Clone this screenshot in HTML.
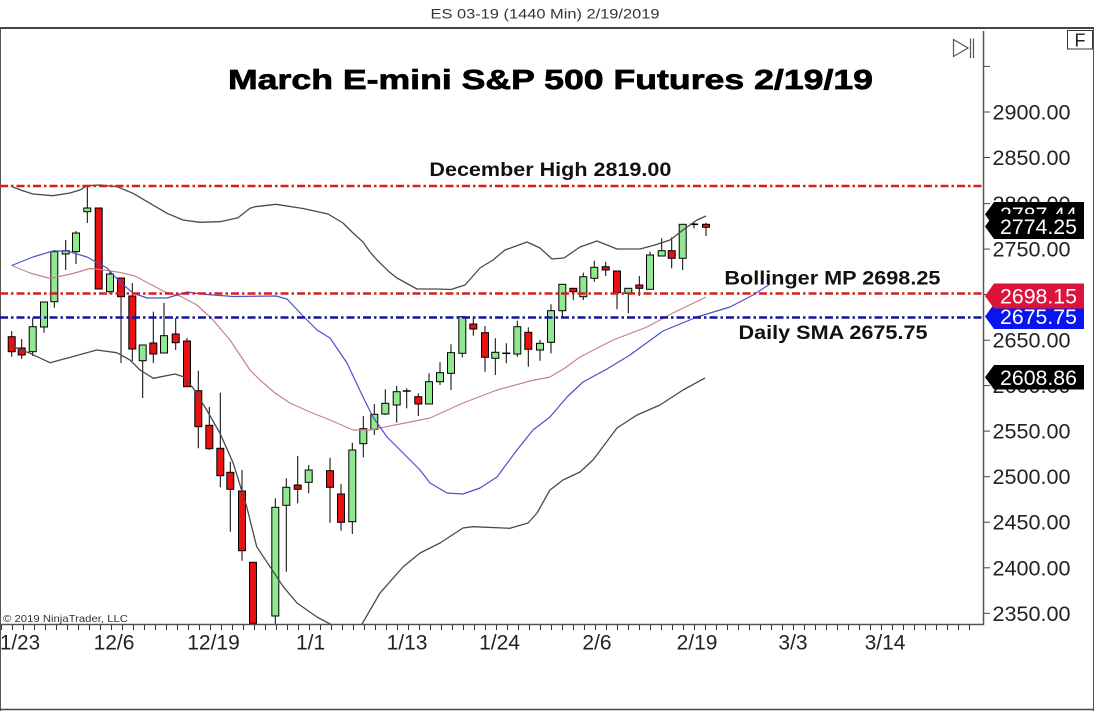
<!DOCTYPE html>
<html>
<head>
<meta charset="utf-8">
<style>
  html,body{margin:0;padding:0;background:#fff;}
  svg{display:block;}
  text{font-family:"Liberation Sans",Arial,sans-serif;}
</style>
</head>
<body>
<svg width="1094" height="711" viewBox="0 0 1094 711" xmlns="http://www.w3.org/2000/svg">
  <defs>
    <clipPath id="plot"><rect x="0" y="29" width="983" height="595"/></clipPath>
    <pattern id="tk" x="12" y="0" width="11" height="711" patternUnits="userSpaceOnUse">
      <rect x="0" y="0" width="1" height="711" fill="#333"/>
    </pattern>
  </defs>

  <rect x="0" y="0" width="1094" height="711" fill="#fff"/>

  <!-- header -->
  <text x="430.5" y="18.5" font-size="13.5" fill="#333" textLength="229" lengthAdjust="spacingAndGlyphs">ES 03-19 (1440 Min)  2/19/2019</text>

  <!-- frame -->
  <line x1="0" y1="28" x2="1094" y2="28" stroke="#444" stroke-width="2"/>
  <line x1="0.5" y1="28" x2="0.5" y2="711" stroke="#555" stroke-width="1"/>
  <line x1="1093.5" y1="28" x2="1093.5" y2="711" stroke="#555" stroke-width="1"/>
  <line x1="0" y1="709.5" x2="1094" y2="709.5" stroke="#444" stroke-width="1.5"/>

  <!-- plot content -->
  <g clip-path="url(#plot)">
    <!-- candles -->
    <g stroke="#000" stroke-width="1">
      <line x1="11.7" y1="331" x2="11.7" y2="356.7"/><rect x="8.2" y="336.7" width="7" height="15" fill="#e81010"/>
      <line x1="21.7" y1="339" x2="21.7" y2="359"/><rect x="18.2" y="348" width="7" height="7" fill="#e81010"/>
      <line x1="32.7" y1="317.7" x2="32.7" y2="356"/><rect x="29.2" y="326.7" width="7" height="25" fill="#90e890"/>
      <line x1="44" y1="302" x2="44" y2="332.7"/><rect x="40.5" y="302" width="7" height="25" fill="#90e890"/>
      <line x1="54.3" y1="250" x2="54.3" y2="307.7"/><rect x="50.8" y="251.7" width="7" height="50" fill="#90e890"/>
      <line x1="65.7" y1="240" x2="65.7" y2="270"/><rect x="62.2" y="250.7" width="7" height="3.3" fill="#90e890"/>
      <line x1="76" y1="231" x2="76" y2="264"/><rect x="72.5" y="233" width="7" height="18.7" fill="#90e890"/>
      <line x1="87.3" y1="186" x2="87.3" y2="223"/><rect x="83.8" y="208" width="7" height="3.7" fill="#90e890"/>
      <line x1="98.7" y1="208" x2="98.7" y2="289"/><rect x="95.2" y="208" width="7" height="81" fill="#e81010"/>
      <line x1="110" y1="271.7" x2="110" y2="294"/><rect x="106.5" y="274" width="7" height="17.7" fill="#90e890"/>
      <line x1="121" y1="278" x2="121" y2="363"/><rect x="117.5" y="278" width="7" height="18.7" fill="#e81010"/>
      <line x1="132.3" y1="283" x2="132.3" y2="361"/><rect x="128.8" y="296" width="7" height="53" fill="#e81010"/>
      <line x1="142.7" y1="345" x2="142.7" y2="398"/><rect x="139.2" y="345" width="7" height="15.7" fill="#90e890"/>
      <line x1="153.3" y1="311.7" x2="153.3" y2="363"/><rect x="149.8" y="343" width="7" height="11" fill="#e81010"/>
      <line x1="164" y1="303" x2="164" y2="353"/><rect x="160.5" y="335.7" width="7" height="17.3" fill="#90e890"/>
      <line x1="175.7" y1="318" x2="175.7" y2="350"/><rect x="172.2" y="334" width="7" height="8.7" fill="#e81010"/>
      <line x1="187" y1="338" x2="187" y2="387"/><rect x="183.5" y="341" width="7" height="45.7" fill="#e81010"/>
      <line x1="198.3" y1="370.7" x2="198.3" y2="448.3"/><rect x="194.8" y="390.7" width="7" height="36" fill="#e81010"/>
      <line x1="209.3" y1="407" x2="209.3" y2="450"/><rect x="205.8" y="425.3" width="7" height="23.4" fill="#e81010"/>
      <line x1="220.3" y1="392.7" x2="220.3" y2="487.3"/><rect x="216.8" y="448.3" width="7" height="27.4" fill="#e81010"/>
      <line x1="230.3" y1="461.7" x2="230.3" y2="531.7"/><rect x="226.8" y="472.3" width="7" height="17" fill="#e81010"/>
      <line x1="242" y1="470" x2="242" y2="560.7"/><rect x="238.5" y="491" width="7" height="59.7" fill="#e81010"/>
      <line x1="253" y1="562" x2="253" y2="624"/><rect x="249.5" y="562.3" width="7" height="61" fill="#e81010"/>
      <line x1="275.3" y1="498.3" x2="275.3" y2="624"/><rect x="271.8" y="507.3" width="7" height="108.7" fill="#90e890"/>
      <line x1="286.3" y1="478.3" x2="286.3" y2="571.7"/><rect x="282.8" y="487.3" width="7" height="18" fill="#90e890"/>
      <line x1="297.7" y1="456" x2="297.7" y2="503.3"/><rect x="294.2" y="485" width="7" height="4.3" fill="#c01010"/>
      <line x1="308.7" y1="465" x2="308.7" y2="493.3"/><rect x="305.2" y="470" width="7" height="12.3" fill="#90e890"/>
      <line x1="330" y1="457.7" x2="330" y2="522.7"/><rect x="326.5" y="470.7" width="7" height="16.6" fill="#e81010"/>
      <line x1="341" y1="484" x2="341" y2="530.7"/><rect x="337.5" y="494" width="7" height="28.3" fill="#e81010"/>
      <line x1="352.3" y1="442.7" x2="352.3" y2="534"/><rect x="348.8" y="450" width="7" height="71.7" fill="#90e890"/>
      <line x1="363.3" y1="416" x2="363.3" y2="457.3"/><rect x="359.8" y="428.7" width="7" height="15" fill="#90e890"/>
      <line x1="374.3" y1="404" x2="374.3" y2="435"/><rect x="370.8" y="414.3" width="7" height="15" fill="#90e890"/>
      <line x1="385.3" y1="389.3" x2="385.3" y2="415"/><rect x="381.8" y="403.3" width="7" height="10.7" fill="#90e890"/>
      <line x1="396.7" y1="386" x2="396.7" y2="422.7"/><rect x="393.2" y="391.7" width="7" height="13.3" fill="#90e890"/>
      <line x1="406.7" y1="388.3" x2="406.7" y2="408.3"/><line x1="402.7" y1="391" x2="410.7" y2="391" stroke-width="1.5"/>
      <line x1="418.3" y1="393.3" x2="418.3" y2="416"/><rect x="414.8" y="396.7" width="7" height="7.3" fill="#e81010"/>
      <line x1="429" y1="373.3" x2="429" y2="404"/><rect x="425.5" y="381.7" width="7" height="22.3" fill="#90e890"/>
      <line x1="440" y1="362.3" x2="440" y2="385"/><rect x="436.5" y="372.7" width="7" height="9" fill="#90e890"/>
      <line x1="451" y1="344.3" x2="451" y2="390"/><rect x="447.5" y="352.7" width="7" height="20.6" fill="#90e890"/>
      <line x1="462.3" y1="316" x2="462.3" y2="357.3"/><rect x="458.8" y="316.7" width="7" height="36.6" fill="#90e890"/>
      <line x1="473.3" y1="316.7" x2="473.3" y2="335.7"/><rect x="469.8" y="324" width="7" height="5" fill="#e81010"/>
      <line x1="485" y1="326" x2="485" y2="371.7"/><rect x="481.5" y="332.7" width="7" height="24.6" fill="#e81010"/>
      <line x1="495.3" y1="338.3" x2="495.3" y2="375"/><rect x="491.8" y="352.3" width="7" height="6" fill="#90e890"/>
      <line x1="506.3" y1="343.3" x2="506.3" y2="363.3"/><line x1="502.3" y1="353.3" x2="510.3" y2="353.3" stroke-width="1.5"/>
      <line x1="517.3" y1="320.7" x2="517.3" y2="356.7"/><rect x="513.8" y="326.7" width="7" height="27.3" fill="#90e890"/>
      <line x1="528.3" y1="327.3" x2="528.3" y2="366.7"/><rect x="524.8" y="332.3" width="7" height="17" fill="#e81010"/>
      <line x1="540" y1="340" x2="540" y2="360.7"/><rect x="536.5" y="343.3" width="7" height="6.7" fill="#90e890"/>
      <line x1="551" y1="304.3" x2="551" y2="353.3"/><rect x="547.5" y="310.7" width="7" height="31.6" fill="#90e890"/>
      <line x1="562.3" y1="284.3" x2="562.3" y2="316.7"/><rect x="558.8" y="284.3" width="7" height="26.4" fill="#90e890"/>
      <line x1="573.3" y1="288" x2="573.3" y2="300"/><rect x="569.8" y="288.3" width="7" height="3.4" fill="#e81010"/>
      <line x1="583.3" y1="272.7" x2="583.3" y2="300"/><rect x="579.8" y="276.7" width="7" height="20" fill="#90e890"/>
      <line x1="594.3" y1="260.7" x2="594.3" y2="281.7"/><rect x="590.8" y="267.3" width="7" height="11" fill="#90e890"/>
      <line x1="605.7" y1="261.7" x2="605.7" y2="276"/><rect x="602.2" y="266.7" width="7" height="3.3" fill="#e81010"/>
      <line x1="617" y1="271" x2="617" y2="309.3"/><rect x="613.5" y="271" width="7" height="21.7" fill="#e81010"/>
      <line x1="628.3" y1="288.3" x2="628.3" y2="313.3"/><rect x="624.8" y="288.3" width="7" height="5" fill="#90e890"/>
      <line x1="639.3" y1="276" x2="639.3" y2="296"/><rect x="635.8" y="285" width="7" height="3.3" fill="#e81010"/>
      <line x1="650" y1="251.7" x2="650" y2="289.3"/><rect x="646.5" y="255" width="7" height="34.3" fill="#90e890"/>
      <line x1="661.7" y1="238.3" x2="661.7" y2="256"/><rect x="658.2" y="250.7" width="7" height="5.3" fill="#90e890"/>
      <line x1="671.7" y1="237.3" x2="671.7" y2="268.3"/><rect x="668.2" y="250.7" width="7" height="7.6" fill="#e81010"/>
      <line x1="682.7" y1="224.3" x2="682.7" y2="270"/><rect x="679.2" y="224.3" width="7" height="34" fill="#90e890"/>
      <line x1="694" y1="222.7" x2="694" y2="228.3"/><line x1="690" y1="224.3" x2="698" y2="224.3" stroke-width="1.5"/>
      <line x1="706" y1="222.7" x2="706" y2="236"/><rect x="702.5" y="224.3" width="7" height="3" fill="#e81010"/>
    </g>

    <!-- Bollinger upper -->
    <polyline fill="none" stroke="#4a4a4a" stroke-width="1.3" stroke-linejoin="round"
      points="11.7,186.5 22,190.5 33,194 53,195.7 70,193 80,190 87,185.7 100,185 117,186.7 133,193.3 150,203.3 167,213.3 183,220 200,222.3 220,221.7 238,217.7 250,208.3 255,206.7 276,204.3 303,208.5 328,214 343,223 352,232 363,242 370,252 377,260 389,271.7 397,278 417,289 437,289 451,289.5 465,285 480,268 493,260 505,250 527,242 540,248 552,259 564,258 580,247 597,241 617,249 640,249 655,245 670,240 683,230 697,220 706,216"/>
    <!-- Bollinger lower -->
    <polyline fill="none" stroke="#4a4a4a" stroke-width="1.3" stroke-linejoin="round"
      points="11.7,346 30,353.3 50,362.7 75,356 96.7,350 116.7,352.7 130,360 140,370 153.3,378.3 175,374 183.3,376.7 193.3,388.3 206.7,410 220,433.3 233.3,463.3 246.7,506.7 256.7,546.7 270,566.7 283.3,586.7 297,603 317,617 330,624 345,632 358,632 362,624 380,593 403,567 420,553 440,543 463,528 473,526.7 510,528.3 528,523 537,513 550,490 563,480 580,472 593,460 617,428 637,415 660,405 683,390 705,378"/>
    <!-- Bollinger middle -->
    <polyline fill="none" stroke="#c8828c" stroke-width="1.2" stroke-linejoin="round"
      points="11.7,265.5 30,273 50,278.5 73,273.5 90,268.5 105,270 120,272.5 135,276 150,284 165,292 180,296 197,305 213,320 230,340 250,370 260,380 275,393 290,403 310,412 330,420 353,430 370,430 380,428 405,423 430,418 463,403 497,390 530,381 550,377 565,368 580,357 613,340 647,327 673,313 706,297"/>
    <!-- SMA blue -->
    <polyline fill="none" stroke="#4f4fcc" stroke-width="1.2" stroke-linejoin="round"
      points="11.7,265.5 33,257 53,251 67,251 87,257 107,268 120,282 133,293 147,298 167,298 187,292 207,294.5 233,296.5 276,296 287,299 303,316 317,330 330,338 347,363 363,397 373,417 387,437 407,457 420,470 430,483 447,493 463,494 480,488 497,477 517,450 533,430 550,417 567,397 583,382 607,369 630,355 663,331 697,317 730,307 753,295 770,284"/>

    <!-- horizontal dash-dot lines -->
    <line x1="0" y1="186" x2="983" y2="186" stroke="#d42020" stroke-width="2.5" stroke-dasharray="8 3 2.5 3"/>
    <line x1="0" y1="293.5" x2="983" y2="293.5" stroke="#d42020" stroke-width="2.5" stroke-dasharray="8 3 2.5 3"/>
    <line x1="0" y1="317.5" x2="983" y2="317.5" stroke="#14149c" stroke-width="2.5" stroke-dasharray="8 3 2.5 3"/>
  </g>

  <!-- title and annotations -->
  <text x="228" y="89" font-size="28" font-weight="bold" fill="#000" stroke="#000" stroke-width="0.7" textLength="645" lengthAdjust="spacingAndGlyphs">March E-mini S&amp;P 500 Futures 2/19/19</text>
  <text x="429.4" y="176" font-size="19.5" font-weight="bold" fill="#111" textLength="242" lengthAdjust="spacingAndGlyphs">December High 2819.00</text>
  <text x="724.4" y="284.5" font-size="19" font-weight="bold" fill="#111" textLength="216" lengthAdjust="spacingAndGlyphs">Bollinger MP 2698.25</text>
  <text x="738.5" y="339" font-size="19" font-weight="bold" fill="#111" textLength="189" lengthAdjust="spacingAndGlyphs">Daily SMA 2675.75</text>

  <!-- copyright -->
  <text x="3" y="622" font-size="10.5" fill="#333" textLength="125" lengthAdjust="spacingAndGlyphs">© 2019 NinjaTrader, LLC</text>

  <!-- axes -->
  <line x1="983.5" y1="31" x2="983.5" y2="625" stroke="#555" stroke-width="1.5"/>
  <line x1="0" y1="624.5" x2="984" y2="624.5" stroke="#555" stroke-width="1.5"/>
  <rect x="0" y="625" width="975" height="5" fill="url(#tk)"/>

  <!-- right ticks -->
  <g stroke="#444" stroke-width="1">
    <line x1="984" y1="66.4" x2="990" y2="66.4"/>
    <line x1="984" y1="112" x2="990" y2="112"/>
    <line x1="984" y1="157.5" x2="990" y2="157.5"/>
    <line x1="984" y1="203.6" x2="990" y2="203.6"/>
    <line x1="984" y1="249.1" x2="990" y2="249.1"/>
    <line x1="984" y1="294.5" x2="990" y2="294.5"/>
    <line x1="984" y1="340.2" x2="990" y2="340.2"/>
    <line x1="984" y1="385.6" x2="990" y2="385.6"/>
    <line x1="984" y1="431.1" x2="990" y2="431.1"/>
    <line x1="984" y1="476.7" x2="990" y2="476.7"/>
    <line x1="984" y1="522.2" x2="990" y2="522.2"/>
    <line x1="984" y1="567.8" x2="990" y2="567.8"/>
    <line x1="984" y1="613.3" x2="990" y2="613.3"/>
  </g>

  <!-- right labels -->
  <g font-size="21" fill="#222">
    <text x="992.5" y="119.5" textLength="78" lengthAdjust="spacingAndGlyphs">2900.00</text>
    <text x="992.5" y="165" textLength="78" lengthAdjust="spacingAndGlyphs">2850.00</text>
    <text x="992.5" y="211.1" textLength="78" lengthAdjust="spacingAndGlyphs">2800.00</text>
    <text x="992.5" y="256.6" textLength="78" lengthAdjust="spacingAndGlyphs">2750.00</text>
    <text x="992.5" y="302" textLength="78" lengthAdjust="spacingAndGlyphs">2700.00</text>
    <text x="992.5" y="347.7" textLength="78" lengthAdjust="spacingAndGlyphs">2650.00</text>
    <text x="992.5" y="393.1" textLength="78" lengthAdjust="spacingAndGlyphs">2600.00</text>
    <text x="992.5" y="438.6" textLength="78" lengthAdjust="spacingAndGlyphs">2550.00</text>
    <text x="992.5" y="484.2" textLength="78" lengthAdjust="spacingAndGlyphs">2500.00</text>
    <text x="992.5" y="529.7" textLength="78" lengthAdjust="spacingAndGlyphs">2450.00</text>
    <text x="992.5" y="575.3" textLength="78" lengthAdjust="spacingAndGlyphs">2400.00</text>
    <text x="992.5" y="620.8" textLength="78" lengthAdjust="spacingAndGlyphs">2350.00</text>
  </g>

  <!-- price markers -->
  <g font-size="21" fill="#fff">
    <polygon points="985,214.5 994,202 1084,202 1084,227 994,227" fill="#000"/>
    <text x="1000" y="222" textLength="77" lengthAdjust="spacingAndGlyphs">2787.44</text>
    <polygon points="985,226.5 994,214 1084,214 1084,239 994,239" fill="#000"/>
    <text x="1000" y="234" textLength="77" lengthAdjust="spacingAndGlyphs">2774.25</text>
    <polygon points="985,316.5 994,304 1084,304 1084,329 994,329" fill="#0a14f0"/>
    <text x="1000" y="324" textLength="77" lengthAdjust="spacingAndGlyphs">2675.75</text>
    <polygon points="985,296 994,283.5 1084,283.5 1084,308.5 994,308.5" fill="#dc143c"/>
    <text x="1000" y="303.5" textLength="77" lengthAdjust="spacingAndGlyphs">2698.15</text>
    <polygon points="985,377.2 994,365 1084,365 1084,389.5 994,389.5" fill="#000"/>
    <text x="1000" y="385" textLength="77" lengthAdjust="spacingAndGlyphs">2608.86</text>
  </g>

  <!-- bottom date labels -->
  <g font-size="21" fill="#222">
    <text x="0" y="649.5" textLength="40" lengthAdjust="spacingAndGlyphs">1/23</text>
    <text x="114" y="649.5" text-anchor="middle">12/6</text>
    <text x="213.5" y="649.5" text-anchor="middle">12/19</text>
    <text x="310.6" y="649.5" text-anchor="middle">1/1</text>
    <text x="407" y="649.5" text-anchor="middle">1/13</text>
    <text x="499.5" y="649.5" text-anchor="middle">1/24</text>
    <text x="597" y="649.5" text-anchor="middle">2/6</text>
    <text x="697" y="649.5" text-anchor="middle">2/19</text>
    <text x="793" y="649.5" text-anchor="middle">3/3</text>
    <text x="885" y="649.5" text-anchor="middle">3/14</text>
  </g>

  <!-- top-right controls -->
  <polygon points="953.5,39.5 968,48 953.5,56.5" fill="none" stroke="#555" stroke-width="1.2"/>
  <line x1="970.5" y1="38.5" x2="970.5" y2="58" stroke="#555" stroke-width="1.2"/>
  <line x1="973.5" y1="38.5" x2="973.5" y2="58" stroke="#555" stroke-width="1.2"/>
  <rect x="1067.5" y="30.5" width="25" height="18.5" fill="#fff" stroke="#333" stroke-width="1"/>
  <text x="1080" y="46.5" font-size="18" fill="#222" text-anchor="middle">F</text>
</svg>
</body>
</html>
